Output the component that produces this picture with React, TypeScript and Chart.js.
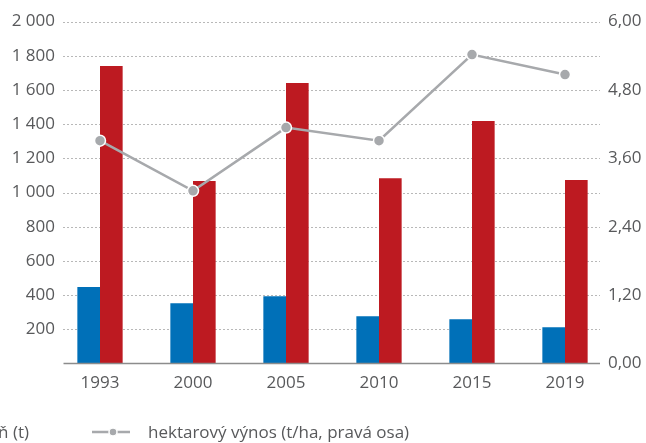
import React, { useEffect, useRef } from "react";
import { Chart, registerables } from "chart.js";

Chart.register(...registerables);

const categories = ["1993", "2000", "2005", "2010", "2015", "2019"];
const plochaLabel = "osevní plocha (ha)";
const sklizenLabel = "sklizeň (t)";
const vynosLabel = "hektarový výnos (t/ha, pravá osa)";
const plochaValues = [448, 353, 394, 277, 259, 212];
const sklizenValues = [1740, 1067, 1640, 1084, 1418, 1073];
const vynosValues = [3.91, 3.03, 4.14, 3.91, 5.42, 5.07];
const leftTicks = { min: 0, max: 2000, step: 200 };
const rightTicks = { min: 0, max: 6, step: 1.2 };

const BLUE = "#0070b8";
const RED = "#bd1a21";
const GRAY = "#a7a9ac";
const TEXT = "#58595b";
const FONT = "'Open Sans', sans-serif";

const insetGrid = {
  id: "insetGrid",
  afterLayout(chart: any) {
    // let the axis labels sit slightly inside the bar band, as in the reference
    chart.scales.y.right += 1.5;
    chart.scales.y1.left -= 3.5;
  },
  beforeDatasetsDraw(chart: any) {
    const { ctx, chartArea } = chart;
    const y = chart.scales.y;
    const x1 = chartArea.left + 9.5;
    const x2 = chartArea.right - 11.5;
    ctx.save();
    ctx.strokeStyle = "#b8b8b8";
    ctx.lineWidth = 1;
    ctx.setLineDash([2, 2]);
    y.ticks.forEach((t: any) => {
      if (t.value === 0) return;
      const py = Math.round(y.getPixelForValue(t.value)) + 0.5;
      ctx.beginPath();
      ctx.moveTo(x1, py);
      ctx.lineTo(x2, py);
      ctx.stroke();
    });
    ctx.restore();
  },
  afterDatasetsDraw(chart: any) {
    const { ctx, chartArea } = chart;
    const y = chart.scales.y;
    const by = y.getPixelForValue(0);
    ctx.save();
    ctx.strokeStyle = "#8c8c8c";
    ctx.lineWidth = 1.5;
    ctx.beginPath();
    ctx.moveTo(chartArea.left + 10, by);
    ctx.lineTo(chartArea.right - 11.5, by);
    ctx.stroke();
    ctx.restore();
  },
};

export default function App() {
  const ref = useRef<HTMLCanvasElement | null>(null);

  useEffect(() => {
    document.body.style.margin = "0";
    if (!ref.current) return;
    const chart = new Chart(ref.current, {
      type: "bar",
      data: {
        labels: categories,
        datasets: [
          {
            type: "line",
            label: vynosLabel,
            data: vynosValues,
            yAxisID: "y1",
            borderColor: GRAY,
            borderWidth: 2.6,
            pointBackgroundColor: GRAY,
            pointBorderColor: "#ffffff",
            pointBorderWidth: 1.5,
            pointRadius: 5.5,
            tension: 0,
            order: 0,
          } as any,
          {
            type: "bar",
            label: plochaLabel,
            data: plochaValues,
            yAxisID: "y",
            backgroundColor: BLUE,
            borderWidth: 0,
            categoryPercentage: 0.487,
            barPercentage: 1,
            order: 1,
          },
          {
            type: "bar",
            label: sklizenLabel,
            data: sklizenValues,
            yAxisID: "y",
            backgroundColor: RED,
            borderWidth: 0,
            categoryPercentage: 0.487,
            barPercentage: 1,
            order: 1,
          },
        ],
      },
      options: {
        responsive: false,
        animation: false,
        layout: { padding: { top: 21.5, bottom: 40, left: 0, right: 0 } },
        plugins: { legend: { display: false }, tooltip: { enabled: false } },
        scales: {
          x: {
            offset: true,
            grid: { display: false, drawTicks: false },
            border: { display: false },
            ticks: { color: TEXT, font: { family: FONT, size: 17 }, padding: 9.5 },
          },
          y: {
            position: "left",
            min: leftTicks.min,
            max: leftTicks.max,
            grid: { display: false, drawTicks: false },
            border: { display: false },
            afterFit: (s: any) => {
              s.width = 53.5;
            },
            ticks: {
              stepSize: leftTicks.step,
              color: TEXT,
              padding: 0,
              font: { family: FONT, size: 17 },
              callback: (v: any) =>
                Number(v) === 0 ? "" : String(v).replace(/\B(?=(\d{3})+(?!\d))/g, " "),
            },
          },
          y1: {
            position: "right",
            min: rightTicks.min,
            max: rightTicks.max,
            grid: { display: false, drawTicks: false },
            border: { display: false },
            afterFit: (s: any) => {
              s.width = 34.5;
            },
            ticks: {
              stepSize: rightTicks.step,
              color: TEXT,
              padding: 0,
              font: { family: FONT, size: 17 },
              callback: (v: any) => Number(v).toFixed(2).replace(".", ","),
            },
          },
        },
      },
      plugins: [insetGrid],
    });
    return () => chart.destroy();
  }, []);

  const legendText: React.CSSProperties = {
    fontFamily: FONT,
    fontSize: 17,
    color: TEXT,
    whiteSpace: "nowrap",
    lineHeight: "20px",
  };

  return (
    <div
      style={{
        position: "fixed",
        left: 0,
        top: 0,
        width: 646,
        height: 443,
        overflow: "hidden",
        background: "#ffffff",
      }}
    >
      <canvas ref={ref} width={646} height={443} style={{ display: "block" }} />
      <div
        style={{
          ...legendText,
          position: "absolute",
          right: 617,
          top: 422,
          display: "flex",
          alignItems: "center",
        }}
      >
        <span style={{ display: "inline-block", width: 12, height: 12, background: BLUE, marginRight: 10 }} />
        <span style={{ marginRight: 30 }}>{plochaLabel}</span>
        <span style={{ display: "inline-block", width: 12, height: 12, background: RED, marginRight: 10 }} />
        <span>{sklizenLabel}</span>
      </div>
      <div
        style={{
          ...legendText,
          position: "absolute",
          left: 92,
          top: 422,
          display: "flex",
          alignItems: "center",
        }}
      >
        <svg width={38} height={12} style={{ marginRight: 18 }}>
          <line x1={0} y1={6} x2={38} y2={6} stroke={GRAY} strokeWidth={2.5} />
          <circle cx={21} cy={6} r={4} fill={GRAY} stroke="#ffffff" strokeWidth={1.5} />
        </svg>
        <span>{vynosLabel}</span>
      </div>
    </div>
  );
}
